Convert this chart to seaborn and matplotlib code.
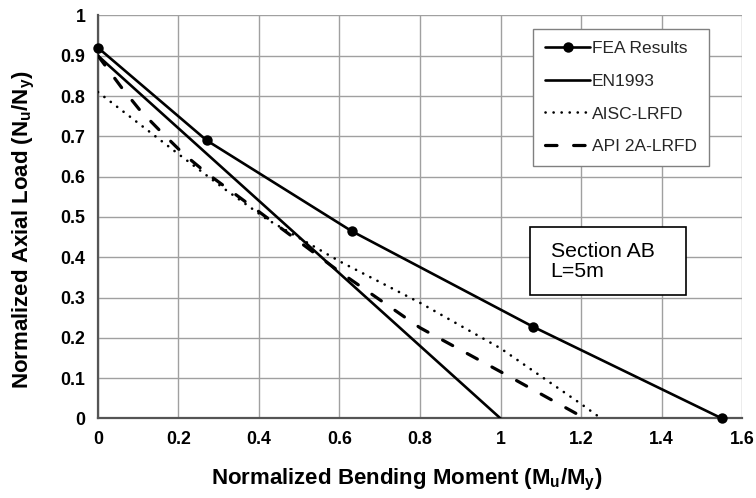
import matplotlib
matplotlib.use("Agg")
import matplotlib.pyplot as plt
import seaborn as sns
import numpy as np
import pandas as pd
from matplotlib.patches import Rectangle

# ---- data ----
fea_m = [0.0, 0.27, 0.63, 1.08, 1.55]
fea_n = [0.92, 0.69, 0.465, 0.228, 0.0]

en_m = [0.0, 1.0]
en_n = [0.90, 0.0]

aisc_m = [0.0, 0.2, 0.315, 0.42, 0.6, 0.8, 1.0, 1.2, 1.25]
aisc_n = [0.81, 0.656, 0.569, 0.494, 0.39, 0.287, 0.174, 0.036, 0.0]

api_m = [0.0, 0.058, 0.105, 0.158, 0.213, 0.271, 0.4, 0.6, 0.8, 1.0, 1.21]
api_n = [0.90, 0.822, 0.764, 0.71, 0.656, 0.608, 0.513, 0.364, 0.225, 0.116, 0.0]

xticks = [0, 0.2, 0.4, 0.6, 0.8, 1.0, 1.2, 1.4, 1.6]
xtick_labels = ["0", "0.2", "0.4", "0.6", "0.8", "1", "1.2", "1.4", "1.6"]
yticks = [0, 0.1, 0.2, 0.3, 0.4, 0.5, 0.6, 0.7, 0.8, 0.9, 1.0]
ytick_labels = ["0", "0.1", "0.2", "0.3", "0.4", "0.5", "0.6", "0.7", "0.8", "0.9", "1"]

sns.set_theme(style="white")
plt.rcParams["font.family"] = ["Liberation Sans", "DejaVu Sans"]
plt.rcParams["mathtext.fontset"] = "custom"
plt.rcParams["mathtext.rm"] = "Liberation Sans:bold"
plt.rcParams["mathtext.default"] = "rm"

fig = plt.figure(figsize=(7.56, 4.98), dpi=100)
ax = fig.add_axes([0.1296, 0.1598, 0.9815 - 0.1296, 0.9689 - 0.1598])

lw = 1.9
sns.lineplot(x=fea_m, y=fea_n, ax=ax, color="black", lw=lw, marker="o", markersize=7.5,
             markeredgewidth=0, label="FEA Results", sort=False, estimator=None, clip_on=False,
             zorder=4)
sns.lineplot(x=en_m, y=en_n, ax=ax, color="black", lw=lw, label="EN1993", sort=False,
             estimator=None, zorder=3)
sns.lineplot(x=aisc_m, y=aisc_n, ax=ax, color="black", lw=1.9, label="AISC-LRFD",
             sort=False, estimator=None, linestyle=(0, (0.05, 3.0)), dash_capstyle="round",
             zorder=3)
sns.lineplot(x=api_m, y=api_n, ax=ax, color="black", lw=2.3, label="API 2A-LRFD",
             sort=False, estimator=None, linestyle=(0, (3.6, 5.2)), dash_capstyle="round",
             zorder=3)

ax.set_xlim(0, 1.6)
ax.set_ylim(0, 1.0)
ax.set_xticks(xticks)
ax.set_xticklabels(xtick_labels)
ax.set_yticks(yticks)
ax.set_yticklabels(ytick_labels)
for lab in ax.get_xticklabels() + ax.get_yticklabels():
    lab.set_fontweight("bold")
    lab.set_fontsize(12.8)
    lab.set_color("black")

ax.grid(True, color="#a0a0a0", lw=1.0)
ax.set_axisbelow(True)
for s in ["top", "right"]:
    ax.spines[s].set_visible(False)
for s in ["left", "bottom"]:
    ax.spines[s].set_color("#555555")
    ax.spines[s].set_linewidth(1.6)
ax.tick_params(axis="both", direction="out", length=4, width=1.2, color="#555555", pad=5)

ax.set_xlabel("Normalized Bending Moment (M$_{u}$/M$_{y}$)", fontsize=16, fontweight="bold",
              color="black")
ax.set_ylabel("Normalized Axial Load (N$_{u}$/N$_{y}$)", fontsize=16, fontweight="bold",
              color="black")
ax.xaxis.set_label_coords(0.48, -0.12)
ax.yaxis.set_label_coords(-0.094, 0.468)

leg = ax.legend(loc="upper right", bbox_to_anchor=(0.949, 0.966), borderaxespad=0,
                fontsize=12.5, frameon=True, fancybox=False, handlelength=2.6,
                labelspacing=1.0, handletextpad=0.1, borderpad=0.7)
leg.get_frame().set_edgecolor("#808080")
leg.get_frame().set_linewidth(1.0)
leg.get_frame().set_facecolor("white")
leg.get_frame().set_alpha(1)

rect = Rectangle((0.671, 0.306), 0.913 - 0.671, 0.475 - 0.306, transform=ax.transAxes,
                 facecolor="white", edgecolor="black", lw=1.2, zorder=5)
ax.add_patch(rect)
ax.text(0.703, 0.389, "Section AB\nL=5m", transform=ax.transAxes, fontsize=15.3,
        va="center", ha="left", linespacing=1.05, zorder=6, color="black")

fig.savefig("out.png", dpi=100)
